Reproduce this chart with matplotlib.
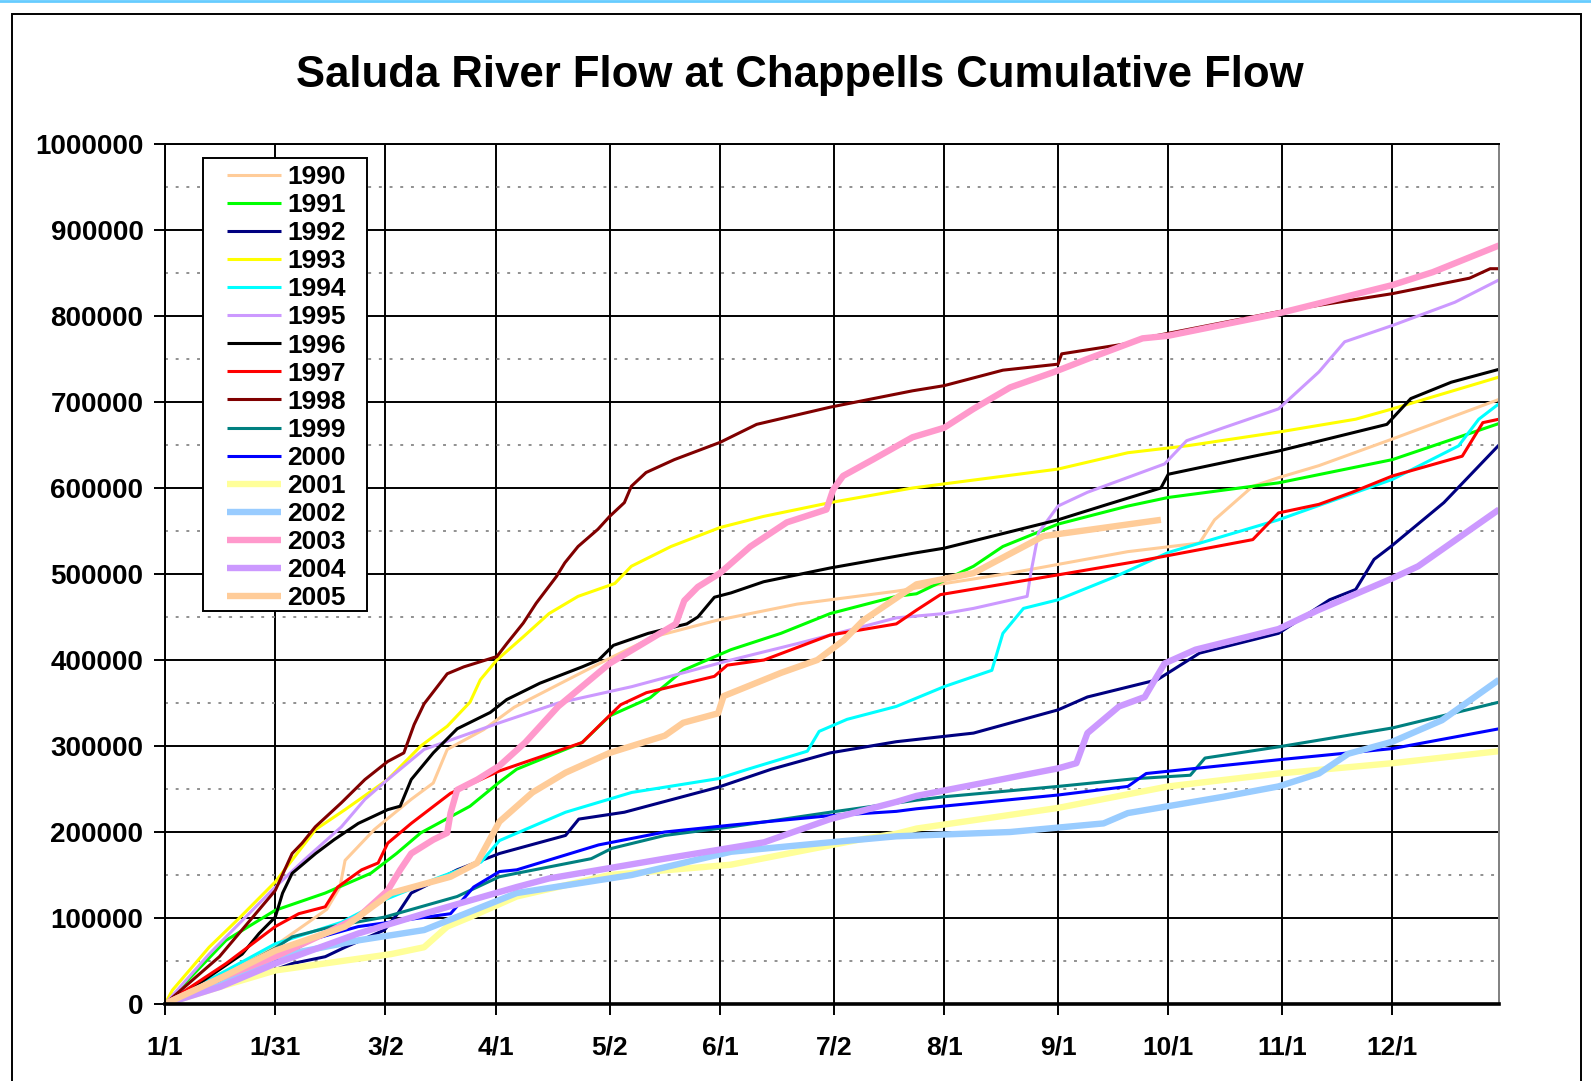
import numpy as np
import matplotlib.pyplot as plt
from matplotlib.patches import Rectangle
from matplotlib.lines import Line2D
from matplotlib.ticker import MultipleLocator, FuncFormatter

plt.rcParams['font.family'] = ['Liberation Sans', 'DejaVu Sans']
plt.rcParams['font.weight'] = 'bold'

# ------------------------------------------------------------
# data: day of year (0 = 1/1), flow in thousands
# ------------------------------------------------------------
day_1990 = [0, 15, 30, 44, 47.6, 49, 57, 67, 73, 76.8, 86.7, 95, 110, 121, 133, 150, 172, 199, 230, 262, 281.5, 285.6, 296, 303, 314, 334, 363]
flow_1990 = [0, 35, 68, 110, 136, 167, 203, 238, 257, 296, 319, 345, 378, 402, 427, 446, 465, 480, 501, 526, 536, 563, 602, 612, 626, 657, 703]

day_1991 = [0, 16.6, 30, 43.6, 56, 63, 69.6, 83, 91, 95.7, 113.5, 121, 132, 141, 154, 167.6, 181, 199, 204.5, 220, 228, 243, 262, 273, 303, 334, 363]
flow_1991 = [0, 74, 109, 129, 152, 175, 199, 230, 258, 273, 304, 335, 356, 388, 412, 431, 454, 474, 477, 509, 532, 558, 579, 589, 606, 633, 675]

day_1992 = [0, 15, 30, 34.6, 43.6, 49, 59.7, 63.3, 67, 79.5, 91, 109, 112.6, 125, 150.5, 165, 181, 199, 220, 243, 251, 270, 281.5, 303, 316.9, 324, 329, 333.6, 348, 363]
flow_1992 = [0, 20, 40, 47, 55, 66, 86, 105, 129, 156, 175, 196, 215, 223, 252, 273, 292, 305, 315, 342, 357, 377, 408, 431, 470, 482, 517, 532, 583, 650]

day_1993 = [0, 2, 12, 20, 30, 41, 49, 60.6, 69.6, 76.8, 83, 85.8, 90.3, 97.5, 104.5, 112.4, 122.4, 126.9, 137.7, 151, 162.9, 181, 203.4, 243, 262, 278, 303, 324, 334, 363]
flow_1993 = [0, 16, 66, 99, 142, 203, 226, 261, 300, 323, 351, 377, 400, 427, 454, 474, 489, 509, 532, 554, 567, 583, 600, 622, 641, 649, 665, 680, 692, 729]

day_1994 = [0, 15, 30, 48, 59.7, 75, 86, 91, 109, 127, 150.5, 158.6, 174.8, 178, 185.6, 199, 212, 225, 228, 233.6, 243, 258.6, 273, 303, 334, 352, 357.5, 363]
flow_1994 = [0, 35, 70, 95, 121, 148, 165, 190, 223, 246, 262, 273, 294, 317, 331, 346, 369, 388, 431, 460, 470, 497, 525, 563, 610, 649, 680, 698]

day_1995 = [0, 12, 30, 38, 48, 54.4, 60.6, 70.5, 91, 107, 127, 154, 172, 199, 212, 220, 234.6, 235.6, 237.7, 243, 251, 272, 278, 288, 303, 314, 321, 334, 351, 363]
flow_1995 = [0, 58, 136, 168, 206, 238, 261, 296, 327, 350, 369, 400, 419, 449, 454, 460, 474, 501, 548, 579, 595, 628, 655, 670, 692, 735, 770, 789, 816, 842]

day_1996 = [0, 7.6, 21, 25.6, 30, 32, 34.6, 41, 46, 52.6, 60.6, 64, 67, 73, 79.5, 88.5, 93, 102, 113.5, 118, 122, 131.5, 142, 145, 149.5, 154, 162.9, 181, 203.4, 212, 243, 256.5, 271, 273, 303, 332.5, 339, 350, 363]
flow_1996 = [0, 19, 58, 82, 101, 129, 152, 175, 191, 210, 226, 230, 261, 292, 320, 339, 354, 373, 392, 400, 417, 431, 442, 450, 473, 478, 491, 507, 524, 530, 563, 581, 600, 616, 643, 674, 704, 723, 738]

day_1997 = [0, 16.6, 30, 36.4, 43.6, 47, 53.5, 58, 60.6, 67, 77.7, 91, 113.5, 118, 124, 131, 149.5, 153, 163, 181, 199, 204.5, 211, 243, 265, 296, 303, 314, 323, 334, 353, 358.6, 363]
flow_1997 = [0, 47, 90, 105, 113, 136, 156, 164, 187, 210, 245, 271, 304, 323, 348, 362, 381, 394, 400, 429, 442, 458, 476, 499, 515, 540, 571, 581, 595, 614, 637, 676, 680]

day_1998 = [0, 14.8, 30, 34.6, 37.3, 40.9, 48, 54.4, 60.6, 65, 67.8, 70.5, 76.8, 81.3, 90.3, 93, 97.5, 101, 106.5, 108.8, 112.4, 117.8, 121, 125, 126.9, 130.9, 138.6, 151, 161, 181, 203.4, 212, 228, 243, 244, 262, 266, 303, 334, 355, 360.6, 363]
flow_1998 = [0, 55, 132, 175, 187, 206, 234, 261, 282, 292, 325, 349, 384, 392, 404, 419, 443, 466, 497, 513, 532, 552, 567, 583, 602, 618, 633, 653, 674, 694, 713, 719, 737, 744, 756, 768, 774, 805, 826, 844, 855, 855]

day_1999 = [0, 15, 30, 34.6, 45.4, 59.7, 79.5, 91, 95.7, 116, 121.6, 136, 154, 181, 204.5, 212, 243, 264, 279, 283, 303, 334, 363]
flow_1999 = [0, 30, 65, 78, 90, 101, 125, 148, 152, 169, 181, 196, 206, 223, 237, 241, 253, 262, 266, 286, 299, 321, 351]

day_2000 = [0, 15, 30, 40, 52.6, 77.7, 84, 91, 95.7, 118, 136, 154, 181, 199, 204.5, 243, 262, 267, 303, 334, 363]
flow_2000 = [0, 25, 50, 75, 90, 105, 136, 154, 156, 185, 200, 208, 219, 224, 227, 243, 253, 268, 284, 297, 320]

day_2001 = [0, 15, 30, 61.5, 70.5, 76.8, 83, 95.7, 121, 154, 190, 199, 204.5, 243, 273, 303, 334, 363]
flow_2001 = [0, 20, 39, 58, 66, 90, 101, 125, 150, 162, 192, 198, 204, 228, 253, 268, 280, 294]

day_2002 = [0, 15, 30, 52.6, 70.5, 95.7, 127, 154, 181, 199, 230, 255.4, 262, 288, 303, 314, 322, 334, 347.5, 363]
flow_2002 = [0, 22, 55, 74, 86, 129, 150, 177, 188, 195, 200, 210, 222, 241, 253, 268, 291, 305, 330, 377]

day_2003 = [0, 15, 30, 45, 52.6, 60.6, 64, 67, 73, 76.8, 77.7, 79.5, 85, 91, 98, 107, 121, 130, 139, 141.3, 145, 151, 159.3, 169.2, 180, 181.8, 184.5, 192.6, 203.4, 212, 220, 230, 242, 251, 266, 273, 303, 334, 345, 363]
flow_2003 = [0, 30, 55, 85, 101, 132, 156, 175, 191, 199, 222, 249, 261, 277, 304, 346, 396, 419, 442, 469, 485, 501, 532, 560, 575, 598, 614, 633, 659, 670, 692, 717, 735, 750, 774, 777, 803, 836, 851, 882]

day_2004 = [0, 15, 30, 52.6, 70.5, 95.7, 104.5, 136, 163, 181, 199, 204.5, 243, 248, 251, 259.6, 266.6, 272, 280.4, 303, 313.8, 334, 341, 363]
flow_2004 = [0, 20, 47, 82, 105, 136, 146, 169, 188, 215, 235, 242, 274, 280, 315, 346, 357, 396, 412, 436, 458, 495, 509, 575]

day_2005 = [0, 15, 30, 49, 61.5, 77.7, 84.9, 91, 100, 109, 121, 136, 141, 150.5, 152, 167.6, 177.5, 184.7, 190, 204.5, 220, 239, 271]
flow_2005 = [0, 30, 62, 90, 129, 148, 164, 212, 246, 269, 292, 312, 327, 338, 358, 385, 400, 423, 446, 488, 501, 544, 563]

years = ['1990', '1991', '1992', '1993', '1994', '1995', '1996', '1997',
         '1998', '1999', '2000', '2001', '2002', '2003', '2004', '2005']
series_days = [day_1990, day_1991, day_1992, day_1993, day_1994, day_1995, day_1996, day_1997,
               day_1998, day_1999, day_2000, day_2001, day_2002, day_2003, day_2004, day_2005]
series_flow = [flow_1990, flow_1991, flow_1992, flow_1993, flow_1994, flow_1995, flow_1996, flow_1997,
               flow_1998, flow_1999, flow_2000, flow_2001, flow_2002, flow_2003, flow_2004, flow_2005]
colors = ['#FFCC99', '#00FF00', '#000080', '#FFFF00', '#00FFFF', '#CC99FF', '#000000', '#FF0000',
          '#800000', '#008080', '#0000FF', '#FFFF99', '#99CCFF', '#FF99CC', '#CC99FF', '#FFCC99']
thick = [False] * 11 + [True] * 5

tick_days = [0, 30, 60, 90, 121, 151, 182, 212, 243, 273, 304, 334]
tick_labels = ['1/1', '1/31', '3/2', '4/1', '5/2', '6/1', '7/2', '8/1', '9/1', '10/1', '11/1', '12/1']

# ------------------------------------------------------------
W, H = 1591, 1081
AX_L, AX_R, AX_T, AX_B = 165, 1499, 144, 1004
fig = plt.figure(figsize=(W / 100, H / 100), dpi=100)
ax = fig.add_axes([AX_L / W, 1 - AX_B / H, (AX_R - AX_L) / W, (AX_B - AX_T) / H])

for d, f, c, t, y in zip(series_days, series_flow, colors, thick, years):
    ax.plot(d, np.array(f) * 1000, color=c, lw=4.6 if t else 2.2, label=y,
            solid_joinstyle='round', solid_capstyle='butt')

ax.set_xlim(0, 363)
ax.set_ylim(0, 1000000)
ax.set_xticks(tick_days)
ax.set_xticklabels(tick_labels)
ax.yaxis.set_major_locator(MultipleLocator(100000))
ax.yaxis.set_minor_locator(MultipleLocator(50000))
ax.yaxis.set_major_formatter(FuncFormatter(lambda v, p: f'{int(v)}'))

ax.set_axisbelow(True)
ax.grid(axis='y', which='major', color='black', lw=1.4)
ax.grid(axis='y', which='minor', color='#909090', lw=1.4, linestyle=(0, (1.5, 4)))
ax.grid(axis='x', which='major', color='black', lw=1.4)

ax.tick_params(axis='both', which='major', direction='out', length=8, width=1.4,
               labelsize=19, colors='black')
ax.tick_params(axis='y', which='major', pad=7.5, labelsize=20)
ax.tick_params(axis='x', which='major', pad=15)
ax.tick_params(axis='y', which='minor', length=0)
for sp in ax.spines.values():
    sp.set_color('black')
    sp.set_linewidth(1.4)
ax.spines['bottom'].set_linewidth(2.6)
ax.spines['right'].set_color('#808080')

# legend box drawn separately (Excel-style padding)
def ax_x(px):
    return (px - AX_L) / (AX_R - AX_L)

def ax_y(py):
    return (AX_B - py) / (AX_B - AX_T)

box = Rectangle((ax_x(203), ax_y(611)), ax_x(367) - ax_x(203), ax_y(158) - ax_y(611),
                transform=ax.transAxes, facecolor='white', edgecolor='black', lw=1.4,
                zorder=4.5)
ax.add_patch(box)
leg = ax.legend(loc='upper left', bbox_to_anchor=(ax_x(227), ax_y(165)),
                borderaxespad=0, fontsize=19, frameon=False, labelspacing=0.155,
                handlelength=2.05, handletextpad=0.23, borderpad=0)
leg.set_zorder(5)

fig.text(0.503, 1 - 75 / H, 'Saluda River Flow at Chappells Cumulative Flow',
         ha='center', va='center', fontsize=31.5, fontweight='bold')

# chart border and top edge
fig.patches.append(Rectangle((12 / W, -0.02), (1581 - 12) / W, 1.02 - 14 / H,
                             transform=fig.transFigure, fill=False, ec='black', lw=1.4))
fig.lines.append(Line2D([0, 1], [1 - 1 / H, 1 - 1 / H], transform=fig.transFigure,
                        color='#66CCFF', lw=2))

fig.savefig('out.png', dpi=100)
